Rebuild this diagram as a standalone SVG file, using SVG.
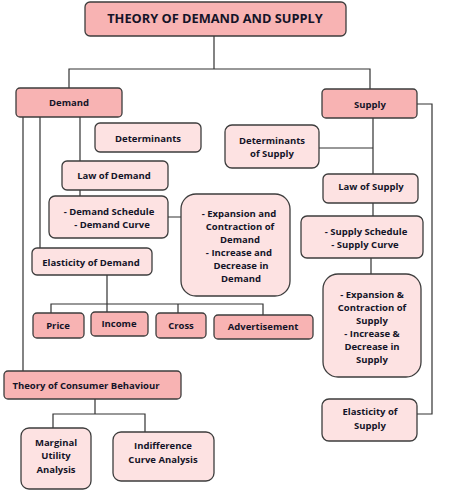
<svg xmlns="http://www.w3.org/2000/svg" width="450" height="503" viewBox="0 0 450 503">
<style>
.dark{fill:#f8b3b3;stroke:#3d3d3d;stroke-width:1.3}
.light{fill:#fde2e2;stroke:#3d3d3d;stroke-width:1.3}
text{font-family:"Open Sans","DejaVu Sans",sans-serif;font-weight:bold;font-size:9.5px;fill:#141428;text-anchor:middle}
.title{font-size:12.8px}
#connectors path{fill:none;stroke:#333;stroke-width:1.2}
</style>
<rect width="450" height="503" fill="#fff"/>
<g id="connectors">
<path d="M214 36V69M69 88V69H370V89"/>
<path d="M23 117V371M40 117V248M80 117V161"/>
<path d="M80 190V196M168 217H181"/>
<path d="M107 275V312M51 313V304H263V315M178 304V313"/>
<path d="M95 399V414M53 428V414H145V432"/>
<path d="M417 104H432V414H417"/>
<path d="M373 118V174M319 148H373M373 203V216M371 258V274"/>
</g>
<g id="title"><rect class="dark" x="85" y="2" width="261" height="34" rx="5"/><text class="title" x="215" y="23">THEORY OF DEMAND AND SUPPLY</text></g>
<g id="demand"><rect class="dark" x="16" y="88" width="106" height="29" rx="4"/><text x="69" y="106">Demand</text></g>
<g id="supply"><rect class="dark" x="322" y="89" width="95" height="29" rx="4"/><text x="370" y="108">Supply</text></g>
<g id="determinants"><rect class="light" x="95" y="123" width="106" height="29" rx="5"/><text x="148" y="142">Determinants</text></g>
<g id="determinants-supply"><rect class="light" x="225" y="125" width="94" height="43" rx="7"/><text x="272" y="144">Determinants</text><text x="272" y="157">of Supply</text></g>
<g id="law-demand"><rect class="light" x="62" y="161" width="106" height="29" rx="5"/><text x="114" y="179">Law of Demand</text></g>
<g id="demand-schedule"><rect class="light" x="49" y="196" width="119" height="42" rx="6"/><text x="109" y="215">- Demand Schedule</text><text x="112" y="228">- Demand Curve</text></g>
<g id="expansion-demand"><rect class="light" x="181" y="194" width="109" height="102" rx="15"/><text x="239" y="217">- Expansion and</text><text x="240" y="230">Contraction of</text><text x="240" y="243">Demand</text><text x="239" y="256">- Increase and</text><text x="241" y="269">Decrease in</text><text x="241" y="282">Demand</text></g>
<g id="elasticity-demand"><rect class="light" x="32" y="248" width="120" height="27" rx="5"/><text x="91" y="266">Elasticity of Demand</text></g>
<g id="price"><rect class="dark" x="33" y="313" width="51" height="25" rx="4"/><text x="58" y="329">Price</text></g>
<g id="income"><rect class="dark" x="91" y="312" width="57" height="24" rx="4"/><text x="119" y="327">Income</text></g>
<g id="cross"><rect class="dark" x="156" y="313" width="50" height="25" rx="4"/><text x="181" y="329">Cross</text></g>
<g id="advertisement"><rect class="dark" x="214" y="315" width="99" height="24" rx="4"/><text x="263" y="330">Advertisement</text></g>
<g id="law-supply"><rect class="light" x="323" y="174" width="95" height="29" rx="5"/><text x="371" y="190">Law of Supply</text></g>
<g id="supply-schedule"><rect class="light" x="301" y="216" width="122" height="42" rx="6"/><text x="366" y="235">-  Supply Schedule</text><text x="365" y="248">- Supply Curve</text></g>
<g id="expansion-supply"><rect class="light" x="323" y="274" width="98" height="103" rx="15"/><text x="372" y="298">- Expansion &amp;</text><text x="372" y="311">Contraction of</text><text x="372" y="324">Supply</text><text x="372" y="337">- Increase &amp;</text><text x="372" y="350">Decrease in</text><text x="372" y="363">Supply</text></g>
<g id="elasticity-supply"><rect class="light" x="322" y="399" width="95" height="42" rx="7"/><text x="370" y="415">Elasticity of</text><text x="370" y="429">Supply</text></g>
<g id="consumer-behaviour"><rect class="dark" x="4" y="371" width="177" height="28" rx="4"/><text x="86" y="389">Theory of Consumer Behaviour</text></g>
<g id="marginal-utility"><rect class="light" x="21" y="428" width="70" height="61" rx="8"/><text x="56" y="446">Marginal</text><text x="56" y="459">Utility</text><text x="56" y="473">Analysis</text></g>
<g id="indifference"><rect class="light" x="113" y="432" width="101" height="49" rx="8"/><text x="163" y="449">Indifference</text><text x="163" y="463">Curve Analysis</text></g>
</svg>
